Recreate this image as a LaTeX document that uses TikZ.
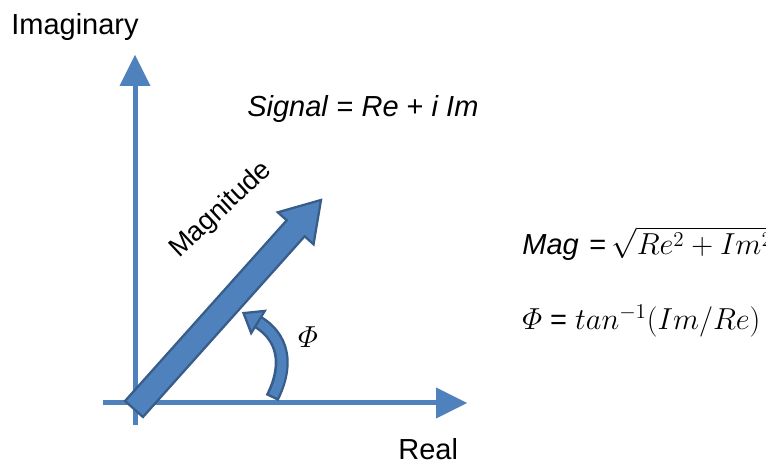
\documentclass[tikz,border=0pt]{standalone}
\usepackage{amsmath}
\usepackage{fontspec}
\setmainfont{Liberation Sans}
\usetikzlibrary{arrows.meta,calc}

\definecolor{axisblue}{HTML}{4F81BD}
\definecolor{fillblue}{HTML}{4F81BD}
\definecolor{edgeblue}{HTML}{385D8A}

\tikzset{
  axisline/.style={line width=0.1cm, draw=axisblue,
    -{Triangle[length=0.62cm, width=0.62cm, line width=0pt]}},
  blockarrow/.style={fill=fillblue, draw=edgeblue, line width=1.3pt, line join=miter},
  lbl/.style={font=\fontsize{16.5}{20}\selectfont, inner sep=0pt}
}

\begin{document}
\begin{tikzpicture}[x=0.02cm, y=0.02cm]
    \useasboundingbox (0,0) rectangle (766,465);

    % axes
    \coordinate (ybot) at (135,40);
    \coordinate (ytop) at (135,410);
    \coordinate (xleft) at (103,62);
    \coordinate (xright) at (467,62);
    \draw[axisline] (ybot) -- (ytop);
    \draw[axisline] (xleft) -- (xright);

    % curved arrow for the angle
    \coordinate (cbase) at (272,67);
    \coordinate (cneck) at (258,143);
    \coordinate (ctip) at (243.5,151.9);
    \draw[line width=0.28cm, edgeblue] (cbase) .. controls (285,92) and (289,124) .. (cneck);
    \draw[line width=0.18cm, fillblue, shorten <=0.05cm] (cbase) .. controls (285,92) and (289,124) .. (cneck);
    \draw[blockarrow] ($(cneck)!0.26cm!90:(ctip)$) -- (ctip) -- ($(cneck)!0.26cm!-90:(ctip)$) -- cycle;

    % magnitude arrow
    \coordinate (mtail) at (134,56);
    \coordinate (mtip) at (321,265);
    \coordinate (mneck) at ($(mtip)!0.76cm!(mtail)$);
    \draw[blockarrow] ($(mtail)!0.24cm!90:(mtip)$) -- ($(mneck)!0.24cm!-90:(mtail)$)
        -- ($(mneck)!0.48cm!-90:(mtail)$) -- (mtip) -- ($(mneck)!0.48cm!90:(mtail)$)
        -- ($(mneck)!0.24cm!90:(mtail)$) -- ($(mtail)!0.24cm!-90:(mtip)$) -- cycle;

    % labels
    \node[lbl, anchor=base west] (imag) at (11,430) {Imaginary};
    \node[lbl, anchor=base west] (real) at (398,5) {Real};
    \node[lbl, anchor=base west] (signal) at (247,348) {\textit{Signal} = \textit{Re} + \textit{i Im}};
    \node[lbl, font=\fontsize{15.5}{18}\selectfont, rotate=43] (magtext) at (221,255) {Magnitude};
    \node[lbl] (philbl) at (308,128) {$\varPhi$};
    \node[lbl, anchor=base west] (magfml) at (522,210) {\textit{Mag}\hspace{6pt}=\hspace{3pt}$\sqrt{Re^2 + Im^2}$};
    \node[lbl, anchor=base west] (phifml) at (522,135) {$\varPhi$ = $tan^{-1}(Im/Re)$};
\end{tikzpicture}
\end{document}
